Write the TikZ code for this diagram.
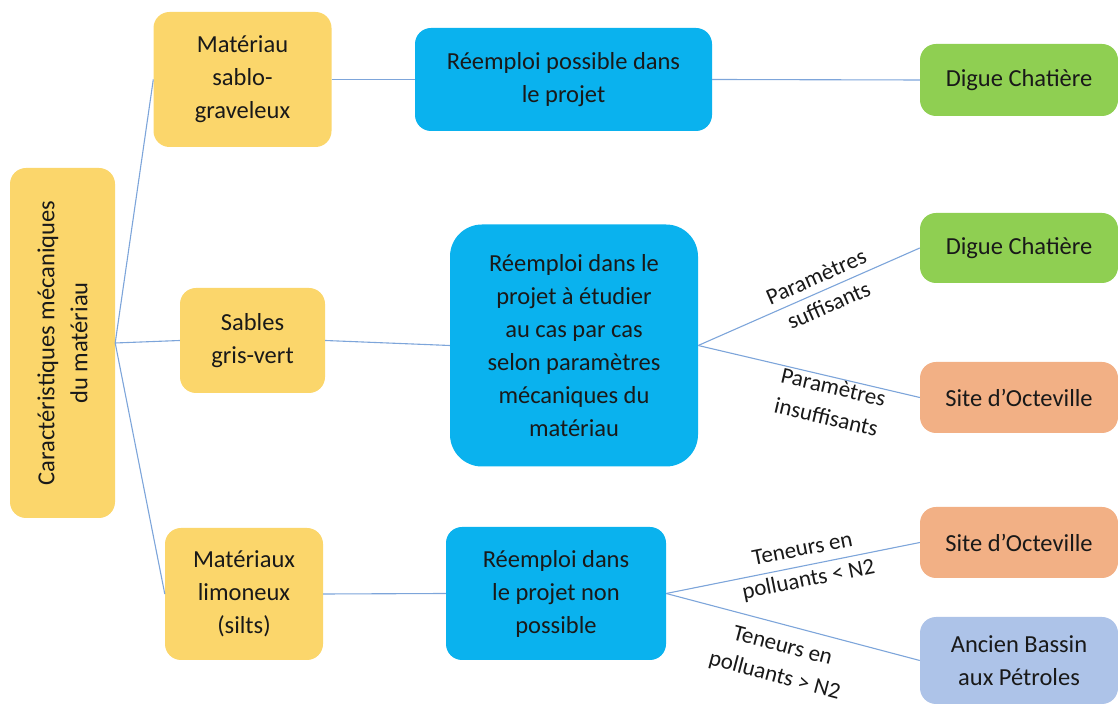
\documentclass[tikz,border=0pt]{standalone}
\usepackage{fontspec}
\setmainfont{Carlito}
\begin{document}
\begin{tikzpicture}[x=1pt,y=1pt,
  every node/.style={font=\fontsize{24.5}{33}\selectfont, text=black!90, align=center, inner sep=0pt},
  boxbase/.style={rounded corners=16pt, draw=none},
  ybox/.style={boxbase, fill=yel},
  bbox/.style={boxbase, fill=cyanb},
  gbox/.style={boxbase, fill=grn},
  obox/.style={boxbase, fill=org},
  pbox/.style={boxbase, fill=lbl},
  conn/.style={draw=linecol, line width=1.1pt},
  lab/.style={font=\fontsize{23}{31}\selectfont, sloped}
]
\definecolor{yel}{HTML}{FBD66B}
\definecolor{cyanb}{HTML}{0AB2EE}
\definecolor{grn}{HTML}{8FCF52}
\definecolor{org}{HTML}{F2B085}
\definecolor{lbl}{HTML}{ADC3E8}
\definecolor{linecol}{HTML}{7DA5DA}
\useasboundingbox (0,0) rectangle (1118,706);

\node[ybox, minimum width=105pt, minimum height=350pt] (root) at (62.5,363) {};
\node[rotate=90] (roott) at (root.center) {Caractéristiques mécaniques\\du matériau};

\node[ybox, minimum width=178pt, minimum height=135pt] (m1) at (242.5,626.5) {Matériau\\sablo-\\graveleux};
\node[ybox, minimum width=145pt, minimum height=105pt] (m2) at (252.5,365.5) {Sables\\gris-vert};
\node[ybox, minimum width=158pt, minimum height=132pt] (m3) at (244,112) {Matériaux\\limoneux\\(silts)};

\node[bbox, minimum width=297pt, minimum height=103pt] (b1) at (563.5,626.5) {Réemploi possible dans\\le projet};
\node[bbox, rounded corners=32pt, minimum width=248pt, minimum height=242pt] (b2) at (574,360.5) {Réemploi dans le\\projet à étudier\\au cas par cas\\selon paramètres\\mécaniques du\\matériau};
\node[bbox, minimum width=220pt, minimum height=133pt] (b3) at (556,112.5) {Réemploi dans\\le projet non\\possible};

\node[gbox, minimum width=198pt, minimum height=72pt] (g1) at (1019,626) {Digue Chatière};
\node[gbox, minimum width=198pt, minimum height=70pt] (g2) at (1019,458) {Digue Chatière};
\node[obox, minimum width=198pt, minimum height=71pt] (o1) at (1019,308.5) {Site d’Octeville};
\node[obox, minimum width=198pt, minimum height=71pt] (o2) at (1019,163.5) {Site d’Octeville};
\node[pbox, minimum width=198pt, minimum height=87pt] (p1) at (1019,45.5) {Ancien Bassin\\aux Pétroles};

\draw[conn] (root.east) -- (m1.west);
\draw[conn] (root.east) -- (m2.west);
\draw[conn] (root.east) -- (m3.west);
\draw[conn] (m1.east) -- (b1.west);
\draw[conn] (m2.east) -- (b2.west);
\draw[conn] (m3.east) -- (b3.west);
\draw[conn] (b1.east) -- (g1.west);
\draw[conn] (b2.east) -- node[lab, pos=0.56] (l1) {Paramètres\\suffisants} (g2.west);
\draw[conn] (b2.east) -- node[lab, pos=0.62, anchor=north, inner sep=1pt] (l2) {Paramètres\\insuffisants} (o1.west);
\draw[conn] (b3.east) -- node[lab, pos=0.55] (l3) {Teneurs en\\polluants < N2} (o2.west);
\draw[conn] (b3.east) -- node[lab, pos=0.48, anchor=north, inner sep=12pt] (l4) {Teneurs en\\polluants > N2} (p1.west);
\end{tikzpicture}
\end{document}
